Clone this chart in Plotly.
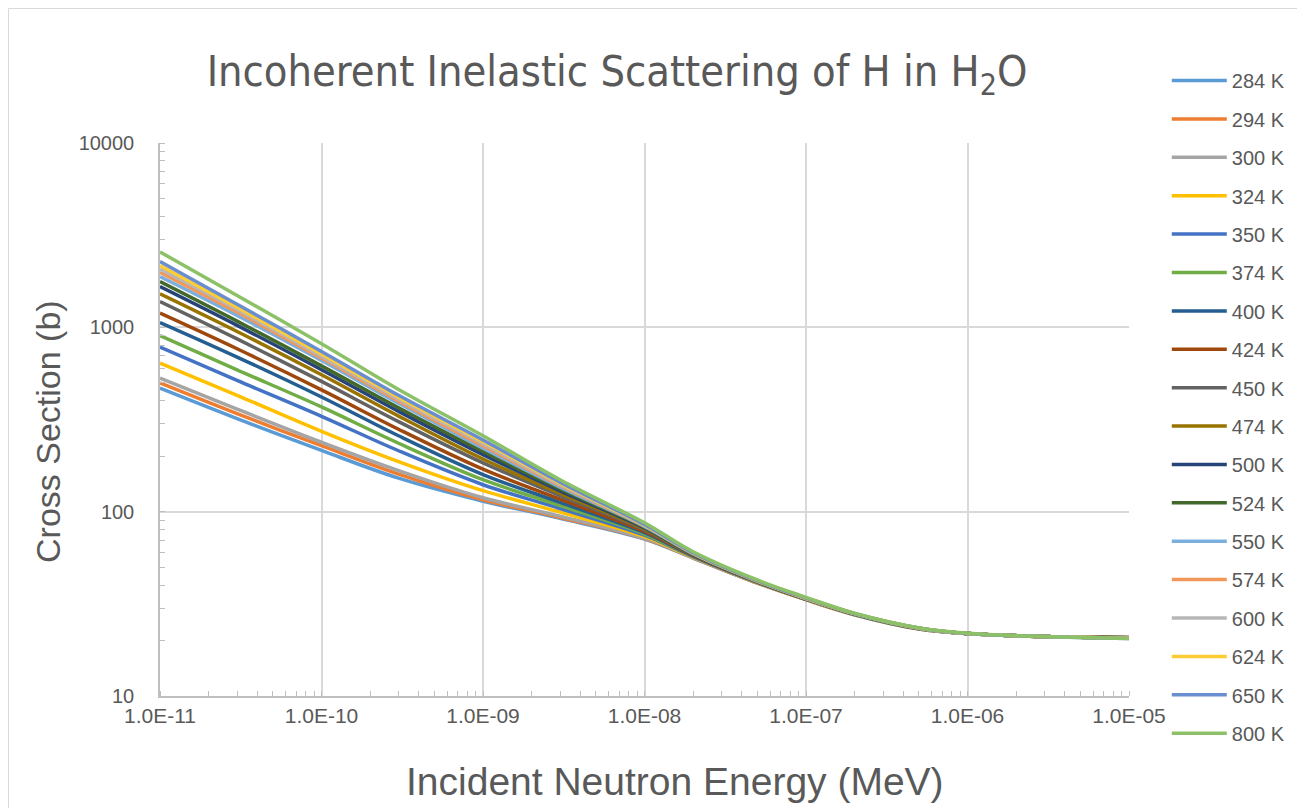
import plotly.graph_objects as go

# Incident neutron energy (MeV)
energy = [1e-11, 3e-11, 1e-10, 3e-10, 1e-9, 3e-9, 1e-8, 2e-8, 5e-8,
          1e-7, 2e-7, 5e-7, 1e-6, 3e-6, 1e-5]

temps = ["284 K", "294 K", "300 K", "324 K", "350 K", "374 K", "400 K", "424 K", "450 K",
         "474 K", "500 K", "524 K", "550 K", "574 K", "600 K", "624 K", "650 K", "800 K"]

xs_284 = [468, 320, 215, 152, 114, 92.0, 71.0, 56.0, 41.0, 33.3, 27.6, 23.1, 21.8, 21.0, 20.8]
xs_294 = [499, 340, 228, 160, 116, 93.0, 71.4, 56.2, 41.0, 33.3, 27.6, 23.1, 21.8, 21.0, 20.8]
xs_300 = [531, 360, 238, 167, 119, 94.5, 71.8, 56.4, 41.1, 33.4, 27.6, 23.1, 21.8, 21.0, 20.8]
xs_324 = [640, 428, 273, 187, 130, 99.5, 73.2, 56.7, 41.2, 33.4, 27.7, 23.2, 21.8, 21.0, 20.7]
xs_350 = [781, 515, 329, 214, 140, 104.0, 74.5, 57.0, 41.3, 33.5, 27.7, 23.2, 21.8, 21.0, 20.7]
xs_374 = [903, 588, 370, 235, 149, 108.0, 75.6, 57.3, 41.4, 33.5, 27.7, 23.2, 21.8, 21.0, 20.7]
xs_400 = [1062, 690, 419, 258, 159, 112.3, 76.9, 57.6, 41.5, 33.6, 27.8, 23.2, 21.8, 21.0, 20.7]
xs_424 = [1194, 765, 458, 280, 170, 116.8, 78.1, 57.9, 41.6, 33.6, 27.8, 23.2, 21.8, 21.0, 20.7]
xs_450 = [1380, 865, 509, 308, 184, 122.3, 79.6, 58.2, 41.7, 33.7, 27.8, 23.3, 21.8, 21.0, 20.7]
xs_474 = [1520, 950, 553, 330, 193, 125.8, 80.6, 58.5, 41.8, 33.7, 27.9, 23.3, 21.8, 21.0, 20.7]
xs_500 = [1663, 1025, 589, 350, 204, 129.8, 81.7, 58.7, 41.9, 33.7, 27.9, 23.3, 21.8, 21.0, 20.6]
xs_524 = [1770, 1080, 618, 366, 212, 132.8, 82.4, 58.9, 41.9, 33.8, 27.9, 23.3, 21.8, 21.0, 20.6]
xs_550 = [1884, 1160, 661, 387, 221, 135.9, 83.2, 59.1, 42.0, 33.8, 27.9, 23.3, 21.8, 21.0, 20.6]
xs_574 = [1991, 1210, 681, 398, 228, 138.6, 83.8, 59.3, 42.0, 33.8, 28.0, 23.3, 21.8, 21.0, 20.6]
xs_600 = [2075, 1250, 698, 408, 234, 140.7, 84.2, 59.5, 42.1, 33.9, 28.0, 23.4, 21.8, 21.0, 20.6]
xs_624 = [2163, 1285, 716, 418, 240, 142.7, 84.7, 59.7, 42.1, 33.9, 28.0, 23.4, 21.8, 21.0, 20.6]
xs_650 = [2275, 1335, 740, 428, 245, 144.5, 85.2, 59.9, 42.2, 34.0, 28.0, 23.4, 21.8, 21.0, 20.5]
xs_800 = [2565, 1490, 815, 460, 258, 149.0, 87.0, 60.6, 42.6, 34.3, 28.1, 23.4, 21.9, 21.0, 20.5]

series = [xs_284, xs_294, xs_300, xs_324, xs_350, xs_374, xs_400, xs_424, xs_450,
          xs_474, xs_500, xs_524, xs_550, xs_574, xs_600, xs_624, xs_650, xs_800]

colors = ["#5B9BD5", "#ED7D31", "#A5A5A5", "#FFC000", "#4472C4", "#70AD47",
          "#255E91", "#9E480E", "#636363", "#997300", "#264478", "#43682B",
          "#7CAFDD", "#F1975A", "#B7B7B7", "#FFCD33", "#698ED0", "#8CC168"]

x_tickvals = [1e-11, 1e-10, 1e-9, 1e-8, 1e-7, 1e-6, 1e-5]
x_ticktext = ["1.0E-11", "1.0E-10", "1.0E-09", "1.0E-08", "1.0E-07", "1.0E-06", "1.0E-05"]
y_tickvals = [10, 100, 1000, 10000]
y_ticktext = ["10", "100", "1000", "10000"]

fig = go.Figure()
for i, (name, ys, c) in enumerate(zip(temps, series, colors)):
    fig.add_trace(go.Scatter(x=energy, y=ys, mode="lines", name=name,
                             legendgroup=name, legend="legend" if i < 9 else "legend2",
                             line=dict(color=c, width=3.5, shape="spline", smoothing=1.0)))

txt = "#595959"
W, H = 1297, 800
L, R, T, B = 152, 176, 135, 112
pw, ph = W - L - R, H - T - B
leg_font = dict(family="Liberation Sans, Arial", size=20, color=txt)

fig.update_layout(
    width=W, height=H,
    margin=dict(l=L, r=R, t=T, b=B),
    paper_bgcolor="white", plot_bgcolor="white",
    title=dict(text="Incoherent Inelastic Scattering of H in H<sub>2</sub>O",
               x=609 / W, xanchor="center", y=1 - 63 / H, yanchor="middle",
               font=dict(family="Liberation Sans Narrow, DejaVu Sans Condensed, Liberation Sans",
                         size=43, color=txt)),
    legend=dict(x=1.039, xanchor="left", y=(H - B - 53) / ph, yanchor="top",
                font=leg_font, tracegroupgap=9.4, itemwidth=55, bgcolor="rgba(0,0,0,0)"),
    legend2=dict(x=1.039, xanchor="left", y=(H - B - 398.5) / ph, yanchor="top",
                 font=leg_font, tracegroupgap=9.4, itemwidth=55, bgcolor="rgba(0,0,0,0)"),
    showlegend=True,
    annotations=[
        dict(text="Incident Neutron Energy (MeV)", xref="paper", yref="paper",
             x=(675 - 160) / pw, y=(H - B - 773) / ph, xanchor="center", yanchor="middle",
             showarrow=False, font=dict(family="Liberation Sans, Arial", size=39, color=txt)),
        dict(text="Cross Section (b)", xref="paper", yref="paper", textangle=-90,
             x=(40 - L) / pw, y=(H - B - 424) / ph, xanchor="center", yanchor="middle",
             showarrow=False, font=dict(family="Liberation Sans, Arial", size=34, color=txt)),
    ],
)
fig.update_xaxes(type="log", range=[-11, -5], tickvals=x_tickvals, ticktext=x_ticktext,
                 showgrid=True, gridcolor="#D9D9D9", gridwidth=2,
                 showline=True, linecolor="#BFBFBF", linewidth=1.5,
                 ticks="", tickfont=dict(family="Liberation Sans, Arial", size=21, color=txt),
                 minor=dict(ticks="inside", ticklen=5, tickcolor="#BFBFBF", dtick="D1",
                            showgrid=False),
                 zeroline=False)
fig.update_yaxes(type="log", range=[1, 4], tickvals=y_tickvals, ticktext=y_ticktext,
                 showgrid=True, gridcolor="#D9D9D9", gridwidth=2,
                 showline=True, linecolor="#BFBFBF", linewidth=1.5,
                 ticks="", ticklabelstandoff=20,
                 tickfont=dict(family="Liberation Sans, Arial", size=20, color=txt),
                 minor=dict(ticks="inside", ticklen=5, tickcolor="#BFBFBF", dtick="D1",
                            showgrid=False),
                 zeroline=False)
fig.add_shape(type="rect", xref="paper", yref="paper",
              x0=(0.5 - L) / pw, x1=(1294 - L) / pw,
              y0=(H - B - 805) / ph, y1=(H - B - 0.5) / ph,
              line=dict(color="#D9D9D9", width=1), fillcolor="rgba(0,0,0,0)", layer="below")

fig.write_html("out.html")
